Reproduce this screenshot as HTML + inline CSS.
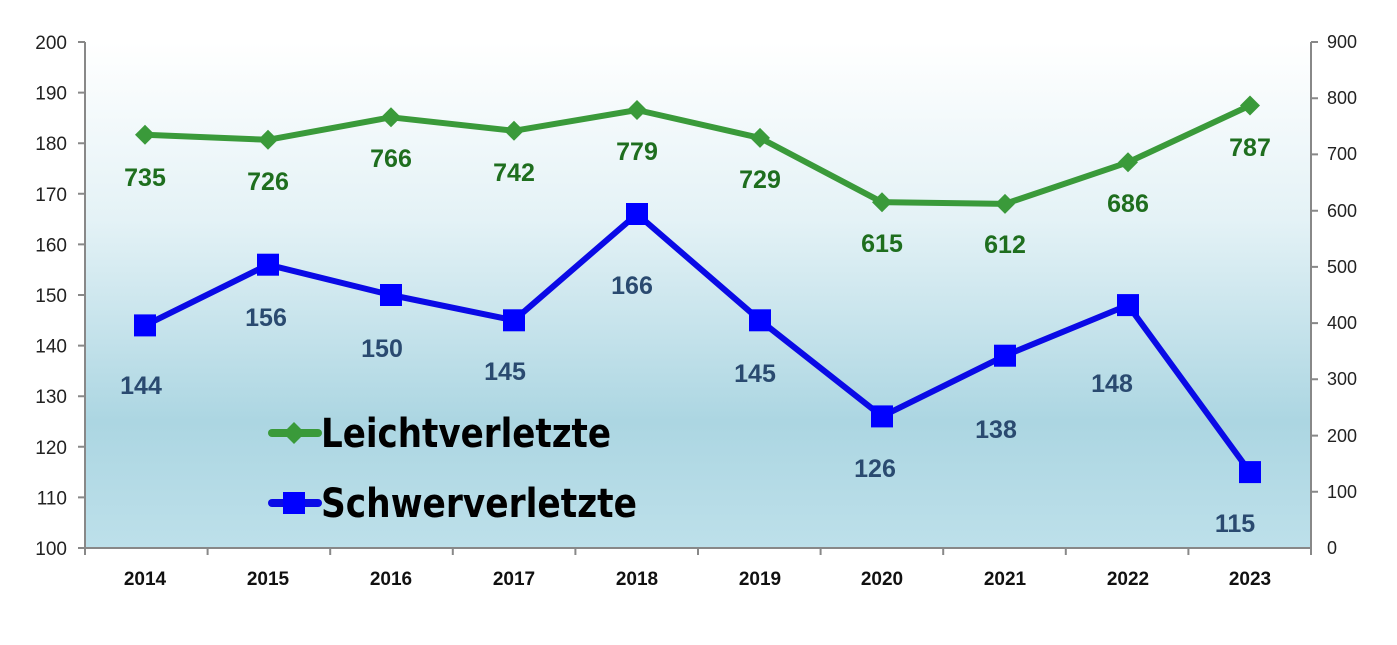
<!DOCTYPE html>
<html><head><meta charset="utf-8"><style>body{margin:0;background:#fff}svg{display:block}</style></head><body>
<svg width="1397" height="645" xmlns="http://www.w3.org/2000/svg" font-family="Liberation Sans, sans-serif">
<defs><linearGradient id="bg" x1="0" y1="0" x2="0" y2="1">
<stop offset="0" stop-color="#ffffff"/><stop offset="0.35" stop-color="#e4f2f6"/><stop offset="0.75" stop-color="#acd6e2"/><stop offset="1" stop-color="#bde0ea"/></linearGradient></defs>
<rect x="85" y="42" width="1226" height="506" fill="url(#bg)"/>
<g stroke="#888" stroke-width="2" fill="none">
<path d="M85 42V548H1311V42"/>
<path d="M78 42H85M78 92.6H85M78 143.2H85M78 193.8H85M78 244.4H85M78 295H85M78 345.6H85M78 396.2H85M78 446.8H85M78 497.4H85M78 548H85"/>
<path d="M1311 42H1318M1311 98.2H1318M1311 154.4H1318M1311 210.7H1318M1311 266.9H1318M1311 323.1H1318M1311 379.3H1318M1311 435.6H1318M1311 491.8H1318"/>
<path d="M85 548V555M207.6 548V555M330.2 548V555M452.8 548V555M575.4 548V555M698 548V555M820.6 548V555M943.2 548V555M1065.8 548V555M1188.4 548V555M1311 548V555"/>
</g>
<g font-size="19" fill="#222" text-anchor="end">
<text x="67" y="49">200</text><text x="67" y="99.6">190</text><text x="67" y="150.2">180</text><text x="67" y="200.8">170</text><text x="67" y="251.4">160</text><text x="67" y="302">150</text><text x="67" y="352.6">140</text><text x="67" y="403.2">130</text><text x="67" y="453.8">120</text><text x="67" y="504.4">110</text><text x="67" y="555">100</text>
</g>
<g font-size="18" fill="#222">
<text x="1327" y="48">900</text><text x="1327" y="104">800</text><text x="1327" y="160">700</text><text x="1327" y="217">600</text><text x="1327" y="273">500</text><text x="1327" y="329">400</text><text x="1327" y="385">300</text><text x="1327" y="442">200</text><text x="1327" y="498">100</text><text x="1327" y="554">0</text>
</g>
<g font-size="19" font-weight="bold" fill="#111" text-anchor="middle">
<text x="145" y="585">2014</text><text x="268" y="585">2015</text><text x="391" y="585">2016</text><text x="514" y="585">2017</text><text x="637" y="585">2018</text><text x="760" y="585">2019</text><text x="882" y="585">2020</text><text x="1005" y="585">2021</text><text x="1128" y="585">2022</text><text x="1250" y="585">2023</text>
</g>
<polyline fill="none" stroke="#3a9a3a" stroke-width="6" stroke-linejoin="round" points="145,134.8 268,139.8 391,117.3 514,130.8 637,110 760,137.9 882,202.2 1005,203.9 1128,162.3 1250,105.5"/>
<g fill="#3a9a3a">
<path d="M145 124.8l10 10-10 10-10-10z"/><path d="M268 129.8l10 10-10 10-10-10z"/><path d="M391 107.3l10 10-10 10-10-10z"/><path d="M514 120.8l10 10-10 10-10-10z"/><path d="M637 100l10 10-10 10-10-10z"/><path d="M760 127.9l10 10-10 10-10-10z"/><path d="M882 192.2l10 10-10 10-10-10z"/><path d="M1005 193.9l10 10-10 10-10-10z"/><path d="M1128 152.3l10 10-10 10-10-10z"/><path d="M1250 95.5l10 10-10 10-10-10z"/>
</g>
<polyline fill="none" stroke="#0a0ae6" stroke-width="6" stroke-linejoin="round" points="145,325.4 268,264.7 391,295 514,320.3 637,214 760,320.3 882,416.4 1005,355.7 1128,305.1 1250,472.1"/>
<g fill="#0000ff">
<rect x="134" y="314.4" width="22" height="22"/><rect x="257" y="253.7" width="22" height="22"/><rect x="380" y="284" width="22" height="22"/><rect x="503" y="309.3" width="22" height="22"/><rect x="626" y="203" width="22" height="22"/><rect x="749" y="309.3" width="22" height="22"/><rect x="871" y="405.4" width="22" height="22"/><rect x="994" y="344.7" width="22" height="22"/><rect x="1117" y="294.1" width="22" height="22"/><rect x="1239" y="461.1" width="22" height="22"/>
</g>
<g font-size="25" font-weight="bold" fill="#1e6e1e" text-anchor="middle">
<text x="145" y="186">735</text><text x="268" y="190">726</text><text x="391" y="167">766</text><text x="514" y="181">742</text><text x="637" y="160">779</text><text x="760" y="188">729</text><text x="882" y="252">615</text><text x="1005" y="253">612</text><text x="1128" y="212">686</text><text x="1250" y="156">787</text>
</g>
<g font-size="25" font-weight="bold" fill="#2a4a70" text-anchor="middle">
<text x="141" y="394">144</text><text x="266" y="326">156</text><text x="382" y="357">150</text><text x="505" y="380">145</text><text x="632" y="294">166</text><text x="755" y="382">145</text><text x="875" y="477">126</text><text x="996" y="438">138</text><text x="1112" y="392">148</text><text x="1235" y="532">115</text>
</g>
<line x1="272" y1="433" x2="318" y2="433" stroke="#3a9a3a" stroke-width="8" stroke-linecap="round"/>
<path d="M294 422l11 11-11 11-11-11z" fill="#3a9a3a"/>
<line x1="272" y1="503" x2="318" y2="503" stroke="#0a0ae6" stroke-width="8" stroke-linecap="round"/>
<rect x="283" y="492" width="22" height="22" fill="#0000ff"/>
<g font-size="40" font-weight="bold" fill="#000" font-family="DejaVu Sans Condensed, Liberation Sans, sans-serif">
<text x="321" y="447" textLength="290" lengthAdjust="spacingAndGlyphs">Leichtverletzte</text><text x="321" y="517" textLength="316" lengthAdjust="spacingAndGlyphs">Schwerverletzte</text>
</g>
</svg>
</body></html>
